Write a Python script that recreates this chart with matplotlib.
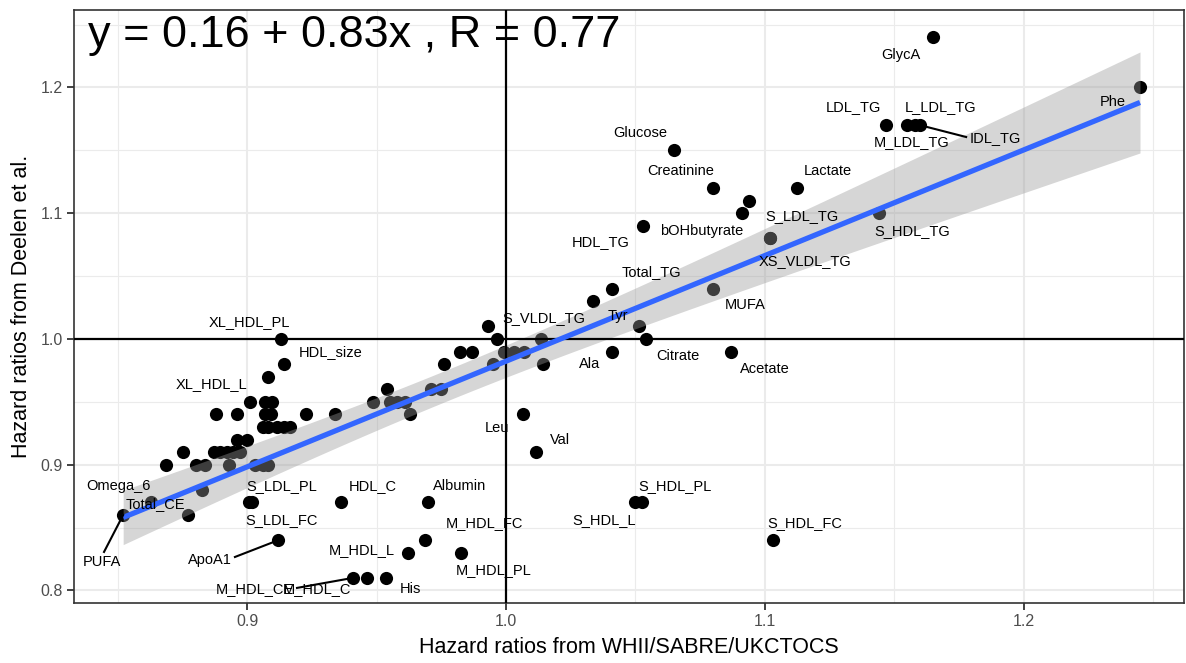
import numpy as np
import matplotlib
matplotlib.use("Agg")
import matplotlib.pyplot as plt

plt.rcParams['font.family'] = ['Liberation Sans', 'DejaVu Sans']

# hazard ratios: x = WHII/SABRE/UKCTOCS, y = Deelen et al.
names = ["GlycA", "Phe", "LDL_TG", "L_LDL_TG", "M_LDL_TG", "IDL_TG", "Glucose",
         "Creatinine", "Lactate", "", "bOHbutyrate", "S_HDL_TG", "HDL_TG",
         "S_LDL_TG", "XS_VLDL_TG", "MUFA", "Total_TG", "", "Tyr", "Citrate", "Ala",
         "Acetate",
         "", "", "", "", "", "", "", "S_VLDL_TG", "", "", "", "Leu", "Val",
         "", "", "", "", "", "", "", "", "", "",
         "XL_HDL_PL", "HDL_size", "", "", "", "", "XL_HDL_L", "", "", "",
         "", "", "", "", "", "", "",
         "", "", "", "", "", "",
         "", "", "", "", "", "", "",
         "", "Omega_6", "Total_CE", "PUFA", "S_LDL_PL", "S_LDL_FC", "ApoA1",
         "HDL_C", "Albumin", "M_HDL_FC", "M_HDL_L", "M_HDL_PL", "M_HDL_CE",
         "M_HDL_C", "His", "S_HDL_PL", "S_HDL_L", "S_HDL_FC"]

hr_x = [1.165, 1.245, 1.147, 1.155, 1.158, 1.160, 1.065,
        1.080, 1.1125, 1.094, 1.091, 1.144, 1.053,
        1.102, 1.102, 1.080, 1.041, 1.0336, 1.0514, 1.054, 1.041,
        1.087,
        0.993, 0.9965, 0.982, 0.987, 0.999, 1.003, 1.007, 1.0135, 1.0143, 0.995, 0.976, 1.0066, 1.0116,
        0.954, 0.971, 0.975, 0.9486, 0.955, 0.958, 0.961, 0.963, 0.934, 0.9227,
        0.913, 0.9142, 0.908, 0.901, 0.907, 0.9095, 0.888, 0.896, 0.907, 0.909,
        0.906, 0.908, 0.9115, 0.914, 0.9165, 0.896, 0.900,
        0.875, 0.887, 0.8895, 0.892, 0.8945, 0.897,
        0.8686, 0.880, 0.8837, 0.893, 0.903, 0.906, 0.908,
        0.8825, 0.8628, 0.877, 0.852, 0.9018, 0.9007, 0.912,
        0.936, 0.970, 0.9687, 0.962, 0.9826, 0.9409,
        0.9463, 0.9536, 1.0526, 1.0499, 1.1032]

hr_y = [1.24, 1.20, 1.17, 1.17, 1.17, 1.17, 1.15,
        1.12, 1.12, 1.11, 1.10, 1.10, 1.09,
        1.08, 1.08, 1.04, 1.04, 1.03, 1.01, 1.00, 0.99,
        0.99,
        1.01, 1.00, 0.99, 0.99, 0.99, 0.99, 0.99, 1.00, 0.98, 0.98, 0.98, 0.94, 0.91,
        0.96, 0.96, 0.96, 0.95, 0.95, 0.95, 0.95, 0.94, 0.94, 0.94,
        1.00, 0.98, 0.97, 0.95, 0.95, 0.95, 0.94, 0.94, 0.94, 0.94,
        0.93, 0.93, 0.93, 0.93, 0.93, 0.92, 0.92,
        0.91, 0.91, 0.91, 0.91, 0.91, 0.91,
        0.90, 0.90, 0.90, 0.90, 0.90, 0.90, 0.90,
        0.88, 0.87, 0.86, 0.86, 0.87, 0.87, 0.84,
        0.87, 0.87, 0.84, 0.83, 0.83, 0.81,
        0.81, 0.81, 0.87, 0.87, 0.84]

# label placement (repelled text), data coords
label_pos = {
    "GlycA": (1.1527, 1.2258), "Phe": (1.2346, 1.1885), "LDL_TG": (1.1341, 1.1845),
    "L_LDL_TG": (1.1678, 1.1845), "M_LDL_TG": (1.1566, 1.1567), "IDL_TG": (1.189, 1.160),
    "Glucose": (1.0518, 1.1638), "Creatinine": (1.0676, 1.1336), "Lactate": (1.1245, 1.1336),
    "S_LDL_TG": (1.1144, 1.0978), "bOHbutyrate": (1.0754, 1.0859), "HDL_TG": (1.0367, 1.0771),
    "Total_TG": (1.056, 1.0533), "XS_VLDL_TG": (1.1156, 1.062), "S_HDL_TG": (1.1569, 1.0859),
    "MUFA": (1.0924, 1.027), "Tyr": (1.0433, 1.0183), "S_VLDL_TG": (1.0147, 1.0167),
    "Citrate": (1.0665, 0.9865), "Ala": (1.0321, 0.9801), "Acetate": (1.1001, 0.9761),
    "HDL_size": (0.932, 0.9897), "XL_HDL_PL": (0.9007, 1.0135), "XL_HDL_L": (0.886, 0.9642),
    "Leu": (0.9965, 0.9292), "Val": (1.0209, 0.9197), "Omega_6": (0.850, 0.8831),
    "Total_CE": (0.8643, 0.8688), "PUFA": (0.8438, 0.8227), "S_LDL_PL": (0.9134, 0.8831),
    "S_LDL_FC": (0.9134, 0.8561), "ApoA1": (0.8856, 0.8243), "HDL_C": (0.9486, 0.8831),
    "Albumin": (0.9822, 0.8831), "M_HDL_FC": (0.9915, 0.8537), "M_HDL_L": (0.9443, 0.8322),
    "M_HDL_PL": (0.995, 0.8163), "M_HDL_CE": (0.903, 0.8012), "M_HDL_C": (0.9269, 0.8012),
    "His": (0.9629, 0.8012), "S_HDL_PL": (1.0653, 0.8831), "S_HDL_L": (1.0379, 0.8561),
    "S_HDL_FC": (1.1156, 0.8537),
}
# labels pushed far enough to get a connector segment
segment_end = {"PUFA": (0.8446, 0.8306), "ApoA1": (0.8952, 0.8266),
               "M_HDL_CE": (0.9192, 0.802), "IDL_TG": (1.1778, 1.1606)}

x = np.array(hr_x)
y = np.array(hr_y)

fig = plt.figure(figsize=(11.86, 6.63), dpi=100)
ax = fig.add_axes([0.0624, 0.0905, 0.9359, 0.8944])

ax.scatter(x, y, s=90, color='black', linewidths=0, zorder=3)

# lm fit with 95% confidence band
b1, b0 = np.polyfit(x, y, 1)
n = len(x)
resid = y - (b0 + b1 * x)
s = np.sqrt(np.sum(resid ** 2) / (n - 2))
xs = np.linspace(x.min(), x.max(), 80)
se = s * np.sqrt(1 / n + (xs - x.mean()) ** 2 / np.sum((x - x.mean()) ** 2))
fit = b0 + b1 * xs
ax.fill_between(xs, fit - 1.985 * se, fit + 1.985 * se, color='#999999', alpha=0.4,
                linewidth=0, zorder=4)

ax.axhline(1.0, color='black', lw=1.6, zorder=5)
ax.axvline(1.0, color='black', lw=1.6, zorder=5)
ax.plot(xs, fit, color='#3366FF', lw=3.8, zorder=6, solid_capstyle='butt')

for nm, px, py in zip(names, x, y):
    if not nm:
        continue
    lx, ly = label_pos[nm]
    if nm in segment_end:
        ex, ey = segment_end[nm]
        ax.plot([px, ex], [py, ey], color='black', lw=1.5, zorder=7)
    ax.text(lx, ly, nm, fontsize=10.5, ha='center', va='center', color='black', zorder=8)

ax.text(0.8384, 1.232, "y = 0.16 + 0.83x , R = 0.77", fontsize=32.5, ha='left',
        va='baseline', color='black', zorder=9)

ax.set_xlim(0.833, 1.262)
ax.set_ylim(0.790, 1.2616)
ax.set_xticks([0.9, 1.0, 1.1, 1.2])
ax.set_xticklabels(["0.9", "1.0", "1.1", "1.2"])
ax.set_yticks([0.8, 0.9, 1.0, 1.1, 1.2])
ax.set_yticklabels(["0.8", "0.9", "1.0", "1.1", "1.2"])
ax.set_xticks([0.85, 0.95, 1.05, 1.15, 1.25], minor=True)
ax.set_yticks([0.85, 0.95, 1.05, 1.15, 1.25], minor=True)
ax.grid(which='major', color='#EBEBEB', lw=1.5)
ax.grid(which='minor', color='#EBEBEB', lw=0.8)
ax.set_axisbelow(True)
ax.tick_params(which='major', length=5, width=1.3, color='#333333',
               labelcolor='#4D4D4D', labelsize=11.5, pad=3)
ax.tick_params(which='minor', length=0)
for sp in ax.spines.values():
    sp.set_color('#333333')
    sp.set_linewidth(1.2)

ax.set_xlabel("Hazard ratios from WHII/SABRE/UKCTOCS", fontsize=15.5, labelpad=6)
ax.set_ylabel("Hazard ratios from Deelen et al.", fontsize=15.5, labelpad=6)

fig.savefig("out.png", dpi=100)
